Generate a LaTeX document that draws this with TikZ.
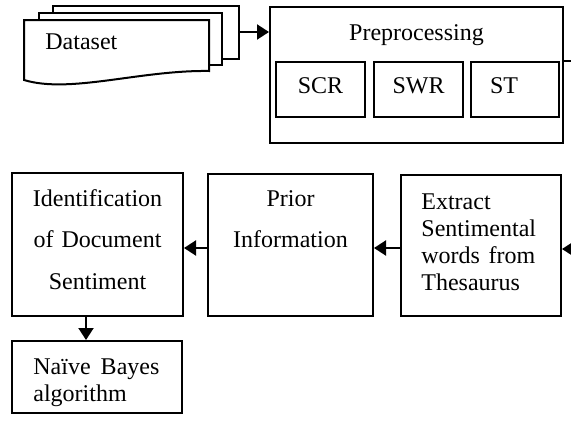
\documentclass[tikz,border=0pt]{standalone}
\usepackage{fontspec}
\setmainfont{Liberation Serif}
\usetikzlibrary{arrows.meta}
\usetikzlibrary{fit}

\tikzset{
	box/.style={draw, line width=1pt, inner sep=0pt},
	sheet/.style={draw, line width=1pt, fill=white},
	txt/.style={inner sep=0pt, font=\fontsize{12}{13.5}\selectfont},
	flow/.style={line width=1pt, -{Triangle[length=6pt, width=7.5pt]}}
}

\begin{document}
\begin{tikzpicture}[x=0.5pt, y=-0.5pt]

		\useasboundingbox (0,0) rectangle (571,423);
		\clip (0,0) rectangle (571,423);

		% stack of dataset sheets
		\draw[sheet] (53,6) rectangle (239,59);
		\draw[sheet] (39,13) rectangle (222,65);
		\draw[sheet] (24,20) -- (209,20) -- (209,71)
			.. controls (140,70) and (70,94) .. (24,80) -- cycle;
		\node[txt, anchor=base west] (data) at (45,49) {Dataset};
		\coordinate (dsout) at (239,32);

		% preprocessing block
		\node[box, fit={(270,7) (563,143)}] (pre) {};
		\node[txt, anchor=base] (pretxt) at (416.5,40) {Preprocessing};
		\node[box, fit={(276,62) (365,117)}] (scr) {};
		\node[box, fit={(374,62) (463,117)}] (swr) {};
		\node[box, fit={(471,62) (559,117)}] (st) {};
		\node[txt, anchor=base] (scrtxt) at (320.5,93) {SCR};
		\node[txt, anchor=base] (swrtxt) at (418.5,93) {SWR};
		\node[txt, anchor=base] (sttxt) at (504,93) {ST};
		\coordinate (preout) at (571,61);

		% lower row
		\node[box, fit={(12,173) (183,316)}] (ident) {};
		\node[txt, anchor=base, text width=80pt, align=center, font=\fontsize{12}{20.75}\selectfont] (identtxt) at (97.5,206)
			{Identification\\of Document\\Sentiment};
		\node[box, fit={(208,174) (373,316)}] (prior) {};
		\node[txt, anchor=base, text width=80pt, align=center, font=\fontsize{12}{20.75}\selectfont] (priortxt) at (290.5,206)
			{Prior\\Information};
		\node[box, fit={(401,175) (561,316)}] (extract) {};
		\node[txt, anchor=base west, text width=57pt, align=left] (extracttxt) at (421,209)
			{Extract\\Sentimental\\words\hfill from\\Thesaurus};
		\coordinate (extin) at (571,249);

		\node[box, fit={(12,341) (182,413)}] (bayes) {};
		\node[txt, anchor=base west, text width=63pt, align=left] (bayestxt) at (33,374)
			{Naïve\hfill Bayes\\algorithm};

		% connectors
		\draw[flow] (dsout) -- (pre.west |- dsout);
		\draw[line width=1pt] (pre.east |- preout) -- (preout);
		\draw[flow] (extin) -- (extract.east |- extin);
		\draw[flow] (extract.west |- 0,248) -- (prior.east |- 0,248);
		\draw[flow] (prior.west |- 0,248) -- (ident.east |- 0,248);
		\draw[flow] (ident.south -| 86,0) -- (bayes.north -| 86,0);

	\end{tikzpicture}
\end{document}
